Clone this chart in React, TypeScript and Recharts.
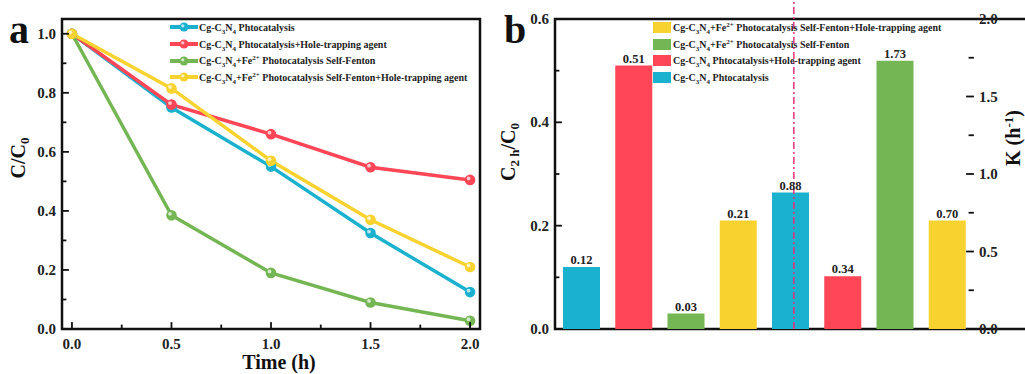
import { Bar, BarChart, Cell, LabelList, Legend, Line, LineChart, ReferenceArea, ReferenceLine, XAxis, YAxis } from 'recharts';

const FONT = "'Liberation Serif', 'Times New Roman', serif";
const INK = '#111';

// panel a: C/C0 vs time
const TIME_H = [0, 0.5, 1.0, 1.5, 2.0];
const PHOTO = [1.0, 0.75, 0.55, 0.325, 0.125];
const PHOTO_HOLE = [1.0, 0.76, 0.66, 0.548, 0.505];
const FENTON = [1.0, 0.385, 0.19, 0.09, 0.028];
const FENTON_HOLE = [1.0, 0.815, 0.57, 0.37, 0.21];

const SERIES_KEYS = ['photo', 'photoHole', 'fenton', 'fentonHole'];
const SERIES_NAMES = [
    'Cg-C3N4 Phtocatalysis',
    'Cg-C3N4 Phtocatalysis+Hole-trapping agent',
    'Cg-C3N4+Fe2+ Photocatalysis Self-Fenton',
    'Cg-C3N4+Fe2+ Photocatalysis Self-Fenton+Hole-trapping agent',
];
const SERIES_COLORS = ['#1AB1CF', '#FF4656', '#74B654', '#F8D22E'];

const X_TICKS = [0, 0.25, 0.5, 0.75, 1, 1.25, 1.5, 1.75, 2];
const Y_TICKS = [0, 0.1, 0.2, 0.3, 0.4, 0.5, 0.6, 0.7, 0.8, 0.9, 1.0];

// panel b: C2h/C0 (first four bars) and K (last four bars)
const BAR_SERIES = [0, 1, 2, 3, 0, 1, 2, 3];
const C2H = [0.12, 0.51, 0.03, 0.21];
const K_RATE = [0.88, 0.34, 1.73, 0.70];
const C2H_TICKS = [0, 0.1, 0.2, 0.3, 0.4, 0.5, 0.6];
const K_TICKS = [0, 0.25, 0.5, 0.75, 1, 1.25, 1.5, 1.75, 2];

const lineData = TIME_H.map((t, i) => ({
    t,
    photo: PHOTO[i],
    photoHole: PHOTO_HOLE[i],
    fenton: FENTON[i],
    fentonHole: FENTON_HOLE[i],
}));

const barData = BAR_SERIES.map((s, i) => ({
    id: i,
    c2h: i < 4 ? C2H[i] : null,
    k: i >= 4 ? K_RATE[i - 4] : null,
}));

const halfStep = (v: number) => Math.abs(v * 2 - Math.round(v * 2)) < 1e-6;
const fifthStep = (v: number) => Math.round(v * 10) % 2 === 0;

// inward tick mark + bold label
function makeTick(side: 'bottom' | 'left' | 'right', isMajor: (v: number) => boolean) {
    return (props: any) => {
        const x = Number(props.x);
        const y = Number(props.y);
        const v = props.payload.value as number;
        const major = isMajor(v);
        const len = major ? 6 : 3.5;
        const txt = { fontFamily: FONT, fontWeight: 'bold', fontSize: 15, fill: '#222' } as const;
        let x2 = x;
        let y2 = y;
        if (side === 'bottom') y2 = y - len;
        else if (side === 'left') x2 = x + len;
        else x2 = x - len;
        return (
            <g>
                <rect
                    x={Math.min(x, x2) - 0.9}
                    y={Math.min(y, y2) - 0.9}
                    width={Math.abs(x2 - x) + 1.8}
                    height={Math.abs(y2 - y) + 1.8}
                    fill={INK}
                />
                {major && side === 'bottom' && <text x={x} y={y + 20} textAnchor="middle" {...txt}>{v.toFixed(1)}</text>}
                {major && side === 'left' && <text x={x - 6} y={y + 5} textAnchor="end" {...txt}>{v.toFixed(1)}</text>}
                {major && side === 'right' && <text x={x + 6} y={y + 5} textAnchor="start" {...txt}>{v.toFixed(1)}</text>}
            </g>
        );
    };
}

function Chem({ text }: { text: string }) {
    const parts = text.split(/(C3N4|Fe2\+)/);
    const sub = { fontSize: 7, verticalAlign: 'sub', lineHeight: 0 } as const;
    const sup = { fontSize: 7, verticalAlign: 'super', lineHeight: 0 } as const;
    return (
        <span style={{ whiteSpace: 'pre' }}>
            {parts.map((p, i) => {
                if (p === 'C3N4') return <span key={i}>C<span style={sub}>3</span>N<span style={sub}>4</span></span>;
                if (p === 'Fe2+') return <span key={i}>Fe<span style={sup}>2+</span></span>;
                return <span key={i}>{p}</span>;
            })}
        </span>
    );
}

function LegendBlock({ order, marker }: { order: number[]; marker: 'line' | 'box' }) {
    return (
        <div style={{ fontFamily: FONT, fontWeight: 'bold', fontSize: 10, color: '#222', whiteSpace: 'nowrap' }}>
            {order.map((idx) => (
                <div key={idx} style={{ height: 16.7, display: 'flex', alignItems: 'center' }}>
                    {marker === 'line' ? (
                        <svg width={28} height={12} style={{ marginRight: 1 }}>
                            <line x1={0} y1={6} x2={28} y2={6} stroke={SERIES_COLORS[idx]} strokeWidth={4} />
                            <circle cx={14} cy={6} r={4.5} fill={SERIES_COLORS[idx]} />
                            <circle cx={12.8} cy={4.8} r={1.6} fill="#fff" opacity={0.7} />
                        </svg>
                    ) : (
                        <div style={{ width: 18, height: 11, background: SERIES_COLORS[idx], marginRight: 2 }} />
                    )}
                    <Chem text={SERIES_NAMES[idx]} />
                </div>
            ))}
        </div>
    );
}

const renderDot = (color: string) => (props: any) => {
    const { cx, cy, index } = props;
    return (
        <g key={index}>
            <circle cx={cx} cy={cy} r={5.3} fill={color} />
            <circle cx={cx - 1.5} cy={cy - 1.5} r={1.9} fill="#fff" opacity={0.7} />
        </g>
    );
};

const titleStyle = { fontFamily: FONT, fontWeight: 'bold', fill: INK } as const;

function TitleCC0() {
    return (
        <text x={25} y={158} transform="rotate(-90 25 158)" textAnchor="middle" fontSize={20} {...titleStyle}>
            C/C<tspan dy={4} fontSize={13}>0</tspan>
        </text>
    );
}

function TitleTime() {
    return (
        <text x={279} y={369} textAnchor="middle" fontSize={20} {...titleStyle}>Time (h)</text>
    );
}

// panel b svg starts at page x = 490
function TitleC2h() {
    return (
        <text x={25} y={152} transform="rotate(-90 25 152)" textAnchor="middle" fontSize={20} {...titleStyle}>
            C<tspan dy={4} fontSize={13}>2 h</tspan><tspan dy={-4}>/C</tspan><tspan dy={4} fontSize={13}>0</tspan>
        </text>
    );
}

function TitleK() {
    return (
        <text x={530} y={138} transform="rotate(-90 530 138)" textAnchor="middle" fontSize={20} {...titleStyle}>
            K (h<tspan dy={-7} fontSize={13}>-1</tspan><tspan dy={7}>)</tspan>
        </text>
    );
}

function PanelA() {
    return (
        <LineChart width={500} height={374} data={lineData} margin={{ top: 19, right: 20, bottom: 0, left: 0 }}>
            <XAxis
                dataKey="t"
                type="number"
                domain={[-0.05, 2.05]}
                ticks={X_TICKS}
                height={45}
                tickSize={0}
                tickMargin={0}
                tickLine={false}
                tick={makeTick('bottom', halfStep)}
                axisLine={false}
                label={<TitleTime />}
            />
            <YAxis
                type="number"
                domain={[0, 1.05]}
                ticks={Y_TICKS}
                width={62}
                tickSize={0}
                tickMargin={0}
                tickLine={false}
                tick={makeTick('left', fifthStep)}
                axisLine={false}
                label={<TitleCC0 />}
            />
            <ReferenceArea x1={-0.05} x2={2.05} y1={0} y2={1.05} fill="none" fillOpacity={0} stroke={INK} strokeWidth={2.5} ifOverflow="visible" />
            <Legend
                layout="vertical"
                align="center"
                verticalAlign="middle"
                width={320}
                wrapperStyle={{ top: 19, left: 170 }}
                content={() => <LegendBlock order={[0, 1, 2, 3]} marker="line" />}
            />
            {SERIES_KEYS.map((key, i) => (
                <Line
                    key={key}
                    dataKey={key}
                    name={SERIES_NAMES[i]}
                    stroke={SERIES_COLORS[i]}
                    strokeWidth={3.5}
                    dot={renderDot(SERIES_COLORS[i])}
                    activeDot={false}
                    isAnimationActive={false}
                />
            ))}
        </LineChart>
    );
}

const labelStyle = { fontFamily: FONT, fontWeight: 'bold', fontSize: 12.5, fill: '#222' };
const fmt2 = (v: any) => (v == null ? '' : Number(v).toFixed(2));

function PanelB() {
    return (
        <BarChart width={535} height={374} data={barData} margin={{ top: 19, right: 0, bottom: 0, left: 0 }} barGap={-37}>
            <XAxis dataKey="id" height={45} tick={false} tickLine={false} axisLine={false} />
            <XAxis xAxisId="num" type="number" domain={[0, 8]} hide />
            <YAxis
                yAxisId="c"
                type="number"
                domain={[0, 0.6]}
                ticks={C2H_TICKS}
                width={65}
                tickSize={0}
                tickMargin={0}
                tickLine={false}
                tick={makeTick('left', fifthStep)}
                axisLine={false}
                label={<TitleC2h />}
            />
            <YAxis
                yAxisId="k"
                orientation="right"
                type="number"
                domain={[0, 2]}
                ticks={K_TICKS}
                width={52}
                tickSize={0}
                tickMargin={0}
                tickLine={false}
                tick={makeTick('right', halfStep)}
                axisLine={false}
                label={<TitleK />}
            />
            <ReferenceArea xAxisId="num" yAxisId="c" x1={0} x2={8} y1={0} y2={0.6} fill="none" fillOpacity={0} stroke={INK} strokeWidth={2.5} ifOverflow="visible" />
            <Legend
                layout="vertical"
                align="center"
                verticalAlign="middle"
                width={320}
                wrapperStyle={{ top: 19, left: 163 }}
                content={() => <LegendBlock order={[3, 2, 1, 0]} marker="box" />}
            />
            <ReferenceLine
                xAxisId="num"
                yAxisId="c"
                segment={[{ x: 4, y: 0 }, { x: 4, y: 0.635 }]}
                ifOverflow="visible"
                stroke="#E5307F"
                strokeWidth={1.5}
                strokeDasharray="7 3 2 3"
            />
            <Bar dataKey="c2h" yAxisId="c" barSize={37} isAnimationActive={false}>
                {barData.map((d, i) => (
                    <Cell key={i} fill={SERIES_COLORS[BAR_SERIES[i]]} />
                ))}
                <LabelList dataKey="c2h" position="top" offset={3} formatter={fmt2} style={labelStyle} />
            </Bar>
            <Bar dataKey="k" yAxisId="k" barSize={37} isAnimationActive={false}>
                {barData.map((d, i) => (
                    <Cell key={i} fill={SERIES_COLORS[BAR_SERIES[i]]} />
                ))}
                <LabelList dataKey="k" position="top" offset={3} formatter={fmt2} style={labelStyle} />
            </Bar>
        </BarChart>
    );
}

export default function App() {
    const letter = { position: 'absolute', fontFamily: FONT, fontWeight: 'bold', fontSize: 40, lineHeight: '40px', color: INK } as const;
    return (
        <div style={{ position: 'absolute', left: 0, top: 0, width: 1025, height: 374, background: '#fff' }}>
            <div style={{ position: 'absolute', left: 0, top: 0 }}>
                <PanelA />
            </div>
            <div style={{ position: 'absolute', left: 490, top: 0 }}>
                <PanelB />
            </div>
            <div style={{ ...letter, left: 9, top: 10 }}>a</div>
            <div style={{ ...letter, left: 504, top: 10 }}>b</div>
        </div>
    );
}
